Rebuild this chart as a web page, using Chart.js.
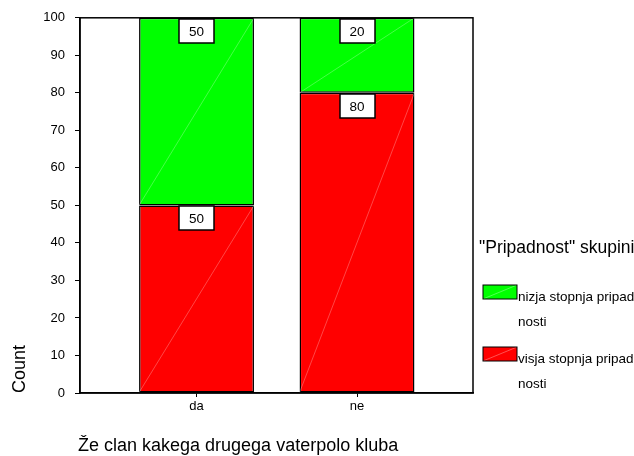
<!DOCTYPE html>
<html>
<head>
<meta charset="utf-8">
<script src="https://cdn.jsdelivr.net/npm/chart.js@4"></script>
<style>
  body { margin: 0; background: #fff; }
</style>
</head>
<body>
<canvas id="chart" width="634" height="456"></canvas>
<script>
var categories = ['da', 'ne'];
var visjaValues = [50, 80];
var nizjaValues = [50, 20];
var seriesNames = ['visja stopnja pripadnosti', 'nizja stopnja pripadnosti'];
var seriesColors = ['#ff0000', '#00ff00'];
var xTitle = 'Že clan kakega drugega vaterpolo kluba';
var yTitle = 'Count';
var legendTitle = '"Pripadnost" skupini';

var FONT = "'Liberation Sans', Arial, sans-serif";

function points(values) {
  return values.map(function (v, i) { return { x: i, y: v }; });
}

// frame, value boxes, titles and the legend drawn on top of the chart
var extras = {
  id: 'extras',
  afterDatasetsDraw: function (chart) {
    var ctx = chart.ctx;
    var a = chart.chartArea;
    ctx.save();

    chart.data.datasets.forEach(function (ds, i) {
      chart.getDatasetMeta(i).data.forEach(function (bar) {
        var w = bar.width / 2;
        ctx.strokeStyle = 'rgba(255,255,255,0.35)';
        ctx.lineWidth = 0.8;
        ctx.beginPath();
        ctx.moveTo(bar.x - w, bar.base);
        ctx.lineTo(bar.x + w, bar.y);
        ctx.stroke();
      });
    });

    ctx.strokeStyle = '#000';
    ctx.lineWidth = 1.5;
    ctx.strokeRect(a.left, a.top, a.right - a.left, a.bottom - a.top);

    // value labels in white boxes
    ctx.font = '13.5px ' + FONT;
    ctx.textAlign = 'center';
    ctx.textBaseline = 'middle';
    chart.data.datasets.forEach(function (ds, i) {
      chart.getDatasetMeta(i).data.forEach(function (bar, j) {
        var bx = Math.round(bar.x - 17.5), by = Math.round(bar.y + 1);
        ctx.fillStyle = '#fff';
        ctx.fillRect(bx, by, 35, 24);
        ctx.strokeStyle = '#000';
        ctx.lineWidth = 1.5;
        ctx.strokeRect(bx, by, 35, 24);
        ctx.fillStyle = '#000';
        ctx.fillText(String(ds.data[j].y), bar.x, by + 13);
      });
    });

    // axis titles
    ctx.textBaseline = 'alphabetic';
    ctx.font = '18px ' + FONT;
    ctx.textAlign = 'left';
    ctx.fillText(xTitle, 78, 451);
    ctx.save();
    ctx.translate(25, 369);
    ctx.rotate(-Math.PI / 2);
    ctx.textAlign = 'center';
    ctx.fillText(yTitle, 0, 0);
    ctx.restore();

    // legend
    ctx.textAlign = 'left';
    ctx.font = '17.5px ' + FONT;
    ctx.fillText(legendTitle, 479, 253);
    ctx.font = '13.5px ' + FONT;
    var order = [1, 0];
    order.forEach(function (di, k) {
      var ds = chart.data.datasets[di];
      var y0 = 285 + 62 * k;
      ctx.fillStyle = ds.backgroundColor;
      ctx.fillRect(483, y0, 34, 14);
      ctx.strokeStyle = 'rgba(255,255,255,0.4)';
      ctx.lineWidth = 0.8;
      ctx.beginPath();
      ctx.moveTo(483, y0 + 14);
      ctx.lineTo(517, y0);
      ctx.stroke();
      ctx.strokeStyle = '#000';
      ctx.lineWidth = 1;
      ctx.strokeRect(483, y0, 34, 14);
      ctx.fillStyle = '#000';
      ctx.fillText(ds.label.slice(0, 20), 518, y0 + 15.5);
      ctx.fillText(ds.label.slice(20), 518, y0 + 41);
    });

    ctx.restore();
  }
};

var ctx = document.getElementById('chart');
new Chart(ctx, {
  type: 'bar',
  data: {
    datasets: [{
      label: seriesNames[0],
      data: points(visjaValues),
      backgroundColor: seriesColors[0],
      borderColor: '#000',
      borderWidth: 1.5,
      borderSkipped: false
    }, {
      label: seriesNames[1],
      data: points(nizjaValues),
      backgroundColor: seriesColors[1],
      borderColor: '#000',
      borderWidth: 1.5,
      borderSkipped: false
    }]
  },
  options: {
    responsive: false,
    animation: false,
    devicePixelRatio: 1,
    layout: { padding: { top: 16, right: 161, bottom: 0, left: 0 } },
    datasets: { bar: { categoryPercentage: 1, barPercentage: 0.716 } },
    plugins: {
      legend: { display: false },
      tooltip: { enabled: false }
    },
    scales: {
      x: {
        type: 'linear',
        stacked: true,
        offset: false,
        min: -0.726,
        max: 1.7227,
        afterBuildTicks: function (scale) {
          scale.ticks = categories.map(function (c, i) { return { value: i }; });
        },
        afterFit: function (scale) { scale.height = 63; },
        grid: { offset: false, drawOnChartArea: false, tickLength: 4, color: '#000' },
        border: { color: '#000', width: 1.5 },
        ticks: {
          padding: 2,
          color: '#000',
          font: { family: FONT, size: 13 },
          maxRotation: 0,
          autoSkip: false,
          callback: function (v) { return categories[v]; }
        }
      },
      y: {
        stacked: true,
        min: 0,
        max: 100,
        afterFit: function (scale) { scale.width = 80; },
        grid: { drawOnChartArea: false, tickLength: 5, color: '#000' },
        border: { color: '#000', width: 1.5 },
        ticks: {
          stepSize: 10,
          padding: 10,
          color: '#000',
          font: { family: FONT, size: 13 }
        }
      }
    }
  },
  plugins: [extras]
});
</script>
</body>
</html>
